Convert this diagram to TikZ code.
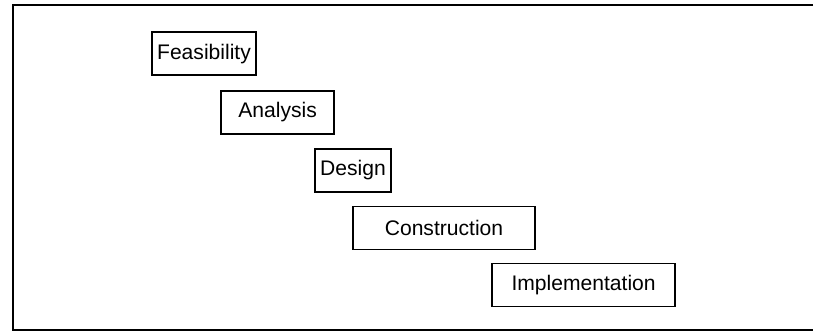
\documentclass[tikz,border=0pt]{standalone}
\usepackage{fontspec}
\setmainfont{Liberation Sans}
\usetikzlibrary{positioning}
\tikzset{
    phase/.style = {
        draw, rectangle, line width=0.9pt, minimum height=1.075cm, inner sep=0pt,
        font=\fontsize{15}{18}\selectfont
    },
    frame/.style = {
        draw, line width=1.2pt
    }
}

\begin{document}
\begin{tikzpicture}
        \useasboundingbox (0, 0) rectangle (20.35, 8.3);
        \draw[frame] (20.33, 8.175) -- (0.325, 8.175) -- (0.325, 0.05) -- (20.33, 0.05);
        \node [phase, minimum width=2.6cm] (feas) at (5.1, 6.96) {Feasibility};
        \node [phase, minimum width=2.825cm] (anal) at (6.94, 5.49) {Analysis};
        \node [phase, minimum width=1.9cm] (des) at (8.825, 4.04) {Design};
        \node [phase, minimum width=4.55cm] (cons) at (11.1, 2.6) {Construction};
        \node [phase, minimum width=4.575cm] (impl) at (14.59, 1.175) {Implementation};
    \end{tikzpicture}
\end{document}
